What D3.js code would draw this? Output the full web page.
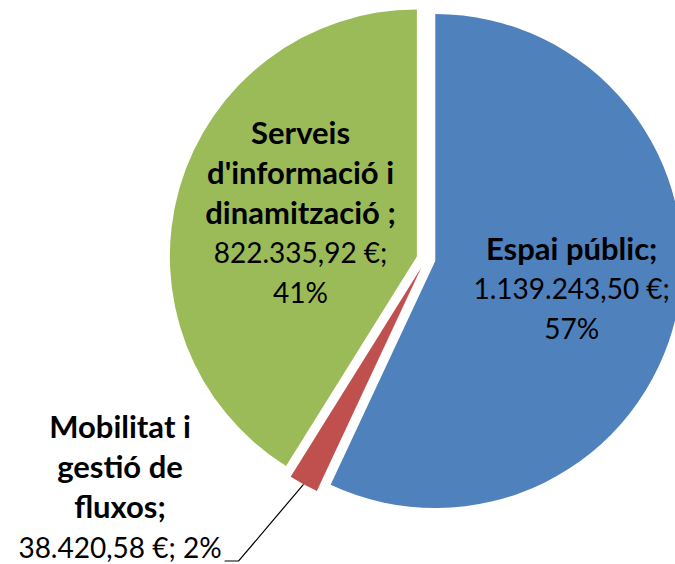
<!DOCTYPE html>
<html>
<head>
<meta charset="utf-8">
<script src="https://cdn.jsdelivr.net/npm/d3@7"></script>
<style>
    html, body { margin: 0; padding: 0; background: #ffffff; }
    svg { display: block; }
    text { font-family: Lato, "Open Sans", sans-serif; fill: #000000; }
</style>
</head>
<body>
<div id="chart"></div>
<script>
const categories = ['Espai públic', 'Mobilitat i gestió de fluxos', "Serveis d'informació i dinamització "];
const amounts = [1139243.50, 38420.58, 822335.92];
const sliceColors = ['#4F81BD', '#C0504D', '#9BBB59'];

// how each data label is wrapped (as Excel did it)
const nameLines = [
    ['Espai públic;'],
    ['Mobilitat i', 'gestió de', 'fluxos;'],
    ['Serveis', "d'informació i", 'dinamització ;']
];

const width = 675;
const height = 564;
const radius = 247;
const explode = 9.5;
const center = { x: 426, y: 259 };
const lineHeight = 40;
const boldSize = 31;
const plainSize = 28;

const locale = d3.formatLocale({ decimal: ',', thousands: '.', grouping: [3], currency: ['', ' €'] });
const formatMoney = locale.format('$,.2f');
const formatPct = d3.format('.0%');
const total = d3.sum(amounts);

const svg = d3.select('#chart').append('svg')
    .attr('width', width)
    .attr('height', height);

svg.append('rect').attr('width', width).attr('height', height).attr('fill', '#ffffff');

const root = svg.append('g').attr('transform', `translate(${center.x},${center.y})`);

const pie = d3.pie().sort(null).value((d) => d);
const arcs = pie(amounts);
const arc = d3.arc().innerRadius(0).outerRadius(radius);

const shift = (d, dist) => {
    const mid = (d.startAngle + d.endAngle) / 2;
    return [Math.sin(mid) * dist, -Math.cos(mid) * dist];
};

root.selectAll('.slice')
    .data(arcs)
    .enter()
    .append('path')
    .attr('class', 'slice')
    .attr('transform', (d) => `translate(${shift(d, explode)})`)
    .attr('d', arc)
    .attr('fill', (d, i) => sliceColors[i]);

// label text lines: bold name, then value / percentage
function labelLines(i) {
    const money = formatMoney(amounts[i]) + ';';
    const pct = formatPct(amounts[i] / total);
    const valueLines = i === 1 ? [`${money} ${pct}`] : [money, pct];
    return nameLines[i].map((t) => ({ t, bold: true }))
        .concat(valueLines.map((t) => ({ t, bold: false })));
}

// inside labels: along the slice's mid angle
const insideLabels = [
    { index: 0, r: 150, dx: -10, dy: -4 },
    { index: 2, r: 121, dx: 0, dy: -10 }
];

insideLabels.forEach((cfg) => {
    const d = arcs[cfg.index];
    const [px, py] = shift(d, cfg.r + explode);
    const lines = labelLines(cfg.index);
    const top = py + cfg.dy - (lines.length - 1) * lineHeight / 2;
    const g = root.append('g');
    g.selectAll('text')
        .data(lines)
        .enter()
        .append('text')
        .attr('x', px + cfg.dx)
        .attr('y', (l, j) => top + j * lineHeight)
        .attr('dy', '0.35em')
        .attr('text-anchor', 'middle')
        .attr('font-size', (l) => (l.bold ? boldSize : plainSize))
        .attr('font-weight', (l) => (l.bold ? 700 : 400))
        .text((l) => l.t);
});

// outside label for the small slice, with leader line
const small = arcs[1];
const smallLines = labelLines(1);
const labelCenterX = 120 - center.x;
const lastBaseline = 558 - center.y;

const outLabel = root.append('g');
const outTexts = outLabel.selectAll('text')
    .data(smallLines)
    .enter()
    .append('text')
    .attr('x', labelCenterX)
    .attr('y', (l, j) => lastBaseline - (smallLines.length - 1 - j) * lineHeight)
    .attr('text-anchor', 'middle')
    .attr('font-size', (l) => (l.bold ? boldSize : plainSize))
    .attr('font-weight', (l) => (l.bold ? 700 : 400))
    .text((l) => l.t);

const lastBox = outTexts.nodes()[smallLines.length - 1].getBBox();
const edge = shift(small, radius + explode);
const lineY = lastBaseline + 3;
const lineRight = lastBox.x + lastBox.width + 3;

root.append('path')
    .attr('d', d3.line()([edge, [lineRight + 14, lineY], [lineRight, lineY]]))
    .attr('fill', 'none')
    .attr('stroke', '#000000')
    .attr('stroke-width', 1.2);
</script>
</body>
</html>
